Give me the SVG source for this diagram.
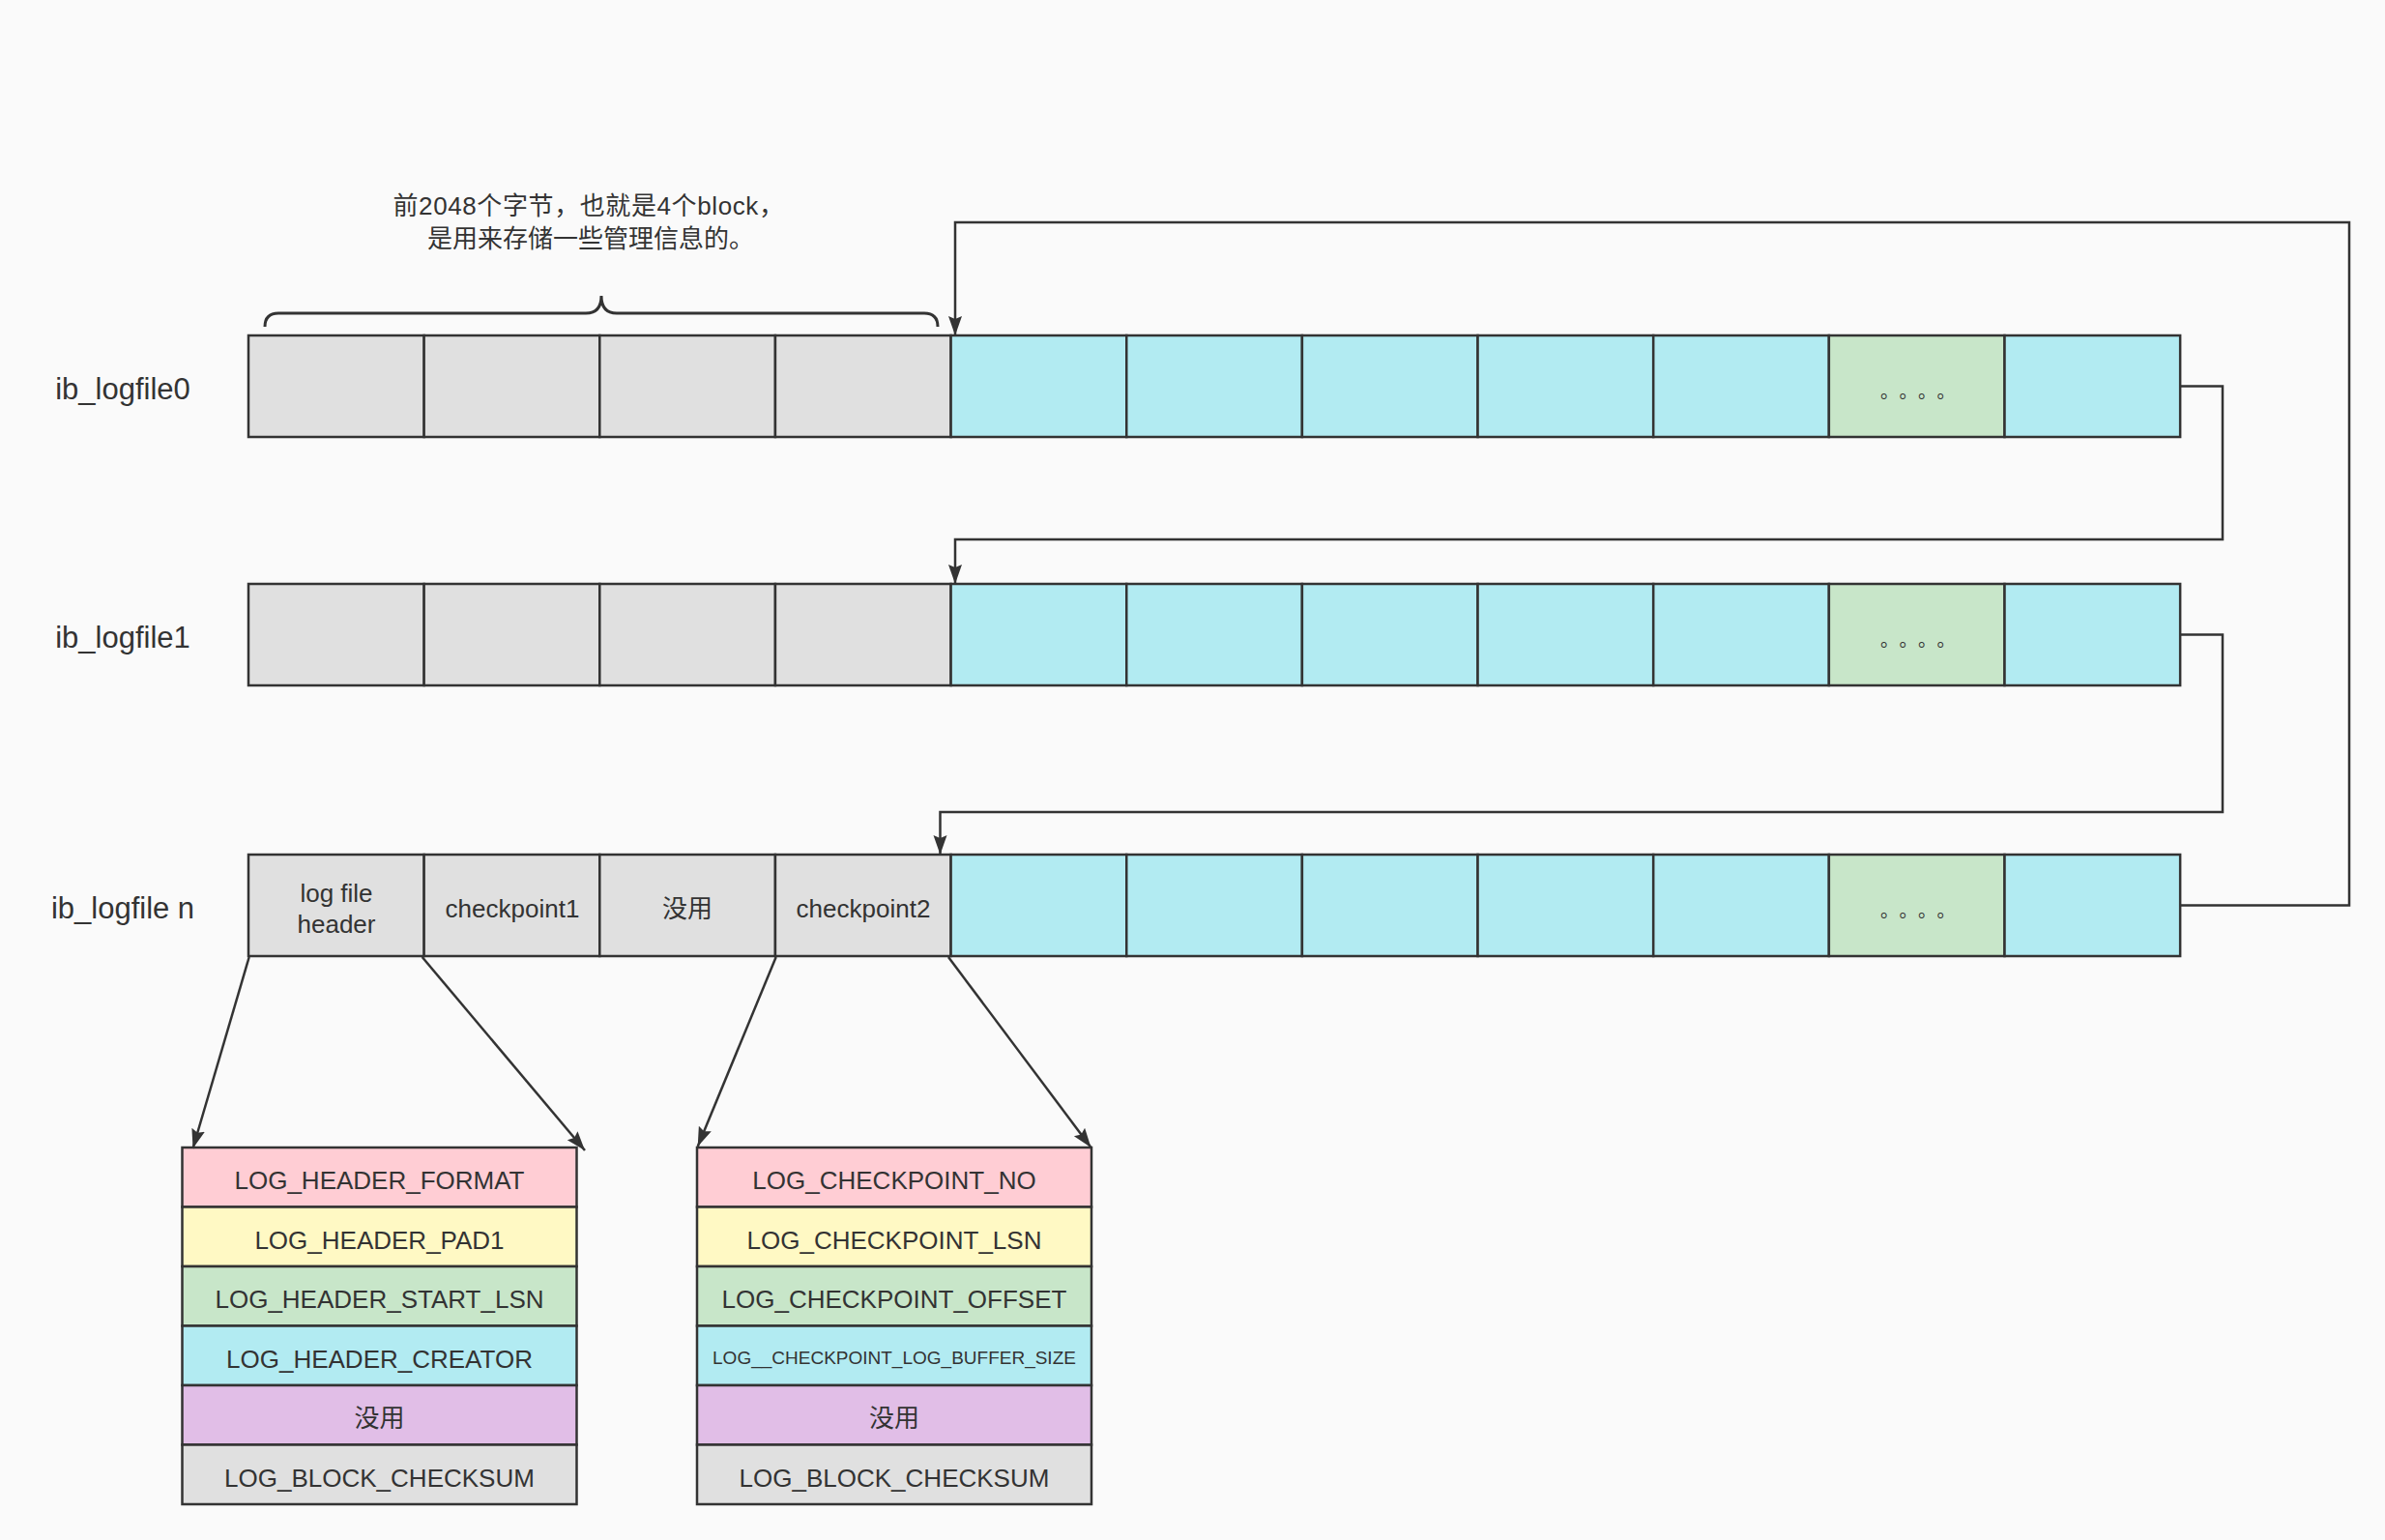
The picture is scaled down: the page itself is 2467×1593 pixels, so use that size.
<svg xmlns="http://www.w3.org/2000/svg" width="2467" height="1593" viewBox="0 0 2467 1593">
<defs>
<marker id="arr" markerUnits="userSpaceOnUse" markerWidth="22" markerHeight="16" refX="20" refY="7" orient="auto">
<path d="M0,0 L20,7 L0,14 L3,7 z" fill="#333"/>
</marker>
<style>
.cell{stroke:#333;stroke-width:2.5}
.g{fill:#e0e0e0}
.c{fill:#b2ebf2}
.gr{fill:#c8e6c9}
.pk{fill:#ffcdd4}
.yl{fill:#fff9c4}
.pu{fill:#e1bee7}
.t{font-family:"Liberation Sans","Noto Sans CJK SC",sans-serif;fill:#333;text-anchor:middle}
.lbl{font-size:31px}
.ct{font-size:26px}
.tt{font-size:26px}
.dots{font-family:"Noto Sans CJK SC",sans-serif;font-size:19px;fill:#333;text-anchor:middle}
.conn{fill:none;stroke:#333;stroke-width:2.5}
</style>
</defs>
<rect x="0" y="0" width="2467" height="1593" fill="#fafafa"/>

<g id="note">
<text class="t" x="609" y="222" font-size="26" letter-spacing="0.6">前2048个字节，也就是4个block，</text>
<text class="t" x="611" y="256" font-size="26">是用来存储一些管理信息的。</text>
<path d="M274,338 Q274,324 288,324 H606 Q622,324 622,306 Q622,324 638,324 H956 Q970,324 970,338" fill="none" stroke="#333" stroke-width="3"/>
</g>

<g id="label0"><text class="t lbl" x="127" y="413">ib_logfile0</text></g>
<g id="label1"><text class="t lbl" x="127" y="670">ib_logfile1</text></g>
<g id="labeln"><text class="t lbl" x="127" y="950">ib_logfile n</text></g>

<g id="logfile0">
<rect class="cell g" x="257" y="347" width="181.65" height="105"/>
<rect class="cell g" x="438.65" y="347" width="181.65" height="105"/>
<rect class="cell g" x="620.3" y="347" width="181.65" height="105"/>
<rect class="cell g" x="801.95" y="347" width="181.65" height="105"/>
<rect class="cell c" x="983.6" y="347" width="181.65" height="105"/>
<rect class="cell c" x="1165.25" y="347" width="181.65" height="105"/>
<rect class="cell c" x="1346.9" y="347" width="181.65" height="105"/>
<rect class="cell c" x="1528.55" y="347" width="181.65" height="105"/>
<rect class="cell c" x="1710.2" y="347" width="181.65" height="105"/>
<rect class="cell gr" x="1891.85" y="347" width="181.65" height="105"/>
<rect class="cell c" x="2073.5" y="347" width="181.65" height="105"/>
<text class="dots" x="1954.5 1974 1993.5 2013" y="412">。。。。</text>
</g>

<g id="logfile1">
<rect class="cell g" x="257" y="604" width="181.65" height="105"/>
<rect class="cell g" x="438.65" y="604" width="181.65" height="105"/>
<rect class="cell g" x="620.3" y="604" width="181.65" height="105"/>
<rect class="cell g" x="801.95" y="604" width="181.65" height="105"/>
<rect class="cell c" x="983.6" y="604" width="181.65" height="105"/>
<rect class="cell c" x="1165.25" y="604" width="181.65" height="105"/>
<rect class="cell c" x="1346.9" y="604" width="181.65" height="105"/>
<rect class="cell c" x="1528.55" y="604" width="181.65" height="105"/>
<rect class="cell c" x="1710.2" y="604" width="181.65" height="105"/>
<rect class="cell gr" x="1891.85" y="604" width="181.65" height="105"/>
<rect class="cell c" x="2073.5" y="604" width="181.65" height="105"/>
<text class="dots" x="1954.5 1974 1993.5 2013" y="669">。。。。</text>
</g>

<g id="logfilen">
<rect class="cell g" x="257" y="884" width="181.65" height="105"/>
<rect class="cell g" x="438.65" y="884" width="181.65" height="105"/>
<rect class="cell g" x="620.3" y="884" width="181.65" height="105"/>
<rect class="cell g" x="801.95" y="884" width="181.65" height="105"/>
<rect class="cell c" x="983.6" y="884" width="181.65" height="105"/>
<rect class="cell c" x="1165.25" y="884" width="181.65" height="105"/>
<rect class="cell c" x="1346.9" y="884" width="181.65" height="105"/>
<rect class="cell c" x="1528.55" y="884" width="181.65" height="105"/>
<rect class="cell c" x="1710.2" y="884" width="181.65" height="105"/>
<rect class="cell gr" x="1891.85" y="884" width="181.65" height="105"/>
<rect class="cell c" x="2073.5" y="884" width="181.65" height="105"/>
<text class="t ct" x="348" y="933">log file</text>
<text class="t ct" x="348" y="965">header</text>
<text class="t ct" x="530" y="949">checkpoint1</text>
<text class="t ct" x="711" y="949">没用</text>
<text class="t ct" x="893" y="949">checkpoint2</text>
<text class="dots" x="1954.5 1974 1993.5 2013" y="949">。。。。</text>
</g>

<g id="header-table">
<rect class="cell pk" x="188.5" y="1187" width="408" height="61.5"/>
<rect class="cell yl" x="188.5" y="1248.5" width="408" height="61.5"/>
<rect class="cell gr" x="188.5" y="1310" width="408" height="61.5"/>
<rect class="cell c" x="188.5" y="1371.5" width="408" height="61.5"/>
<rect class="cell pu" x="188.5" y="1433" width="408" height="61.5"/>
<rect class="cell g" x="188.5" y="1494.5" width="408" height="61.5"/>
<text class="t tt" x="392.5" y="1230">LOG_HEADER_FORMAT</text>
<text class="t tt" x="392.5" y="1291.5">LOG_HEADER_PAD1</text>
<text class="t tt" x="392.5" y="1353">LOG_HEADER_START_LSN</text>
<text class="t tt" x="392.5" y="1414.5">LOG_HEADER_CREATOR</text>
<text class="t tt" x="392.5" y="1476">没用</text>
<text class="t tt" x="392.5" y="1537.5">LOG_BLOCK_CHECKSUM</text>
</g>

<g id="checkpoint-table">
<rect class="cell pk" x="721" y="1187" width="408" height="61.5"/>
<rect class="cell yl" x="721" y="1248.5" width="408" height="61.5"/>
<rect class="cell gr" x="721" y="1310" width="408" height="61.5"/>
<rect class="cell c" x="721" y="1371.5" width="408" height="61.5"/>
<rect class="cell pu" x="721" y="1433" width="408" height="61.5"/>
<rect class="cell g" x="721" y="1494.5" width="408" height="61.5"/>
<text class="t tt" x="925" y="1230">LOG_CHECKPOINT_NO</text>
<text class="t tt" x="925" y="1291.5">LOG_CHECKPOINT_LSN</text>
<text class="t tt" x="925" y="1353">LOG_CHECKPOINT_OFFSET</text>
<text class="t" x="925" y="1411" font-size="19">LOG__CHECKPOINT_LOG_BUFFER_SIZE</text>
<text class="t tt" x="925" y="1476">没用</text>
<text class="t tt" x="925" y="1537.5">LOG_BLOCK_CHECKSUM</text>
</g>

<g id="connectors">
<path class="conn" d="M2255,936.5 H2430 V230 H988 V347" marker-end="url(#arr)"/>
<path class="conn" d="M2255,399.5 H2299 V558 H988 V604" marker-end="url(#arr)"/>
<path class="conn" d="M2255,656.5 H2299 V840 H972.5 V884" marker-end="url(#arr)"/>
<path class="conn" d="M257.7,990 L199.5,1188" marker-end="url(#arr)"/>
<path class="conn" d="M436.7,990 L605,1190" marker-end="url(#arr)"/>
<path class="conn" d="M802.7,990 L721.7,1186" marker-end="url(#arr)"/>
<path class="conn" d="M981,990 L1128.5,1187" marker-end="url(#arr)"/>
</g>
</svg>
